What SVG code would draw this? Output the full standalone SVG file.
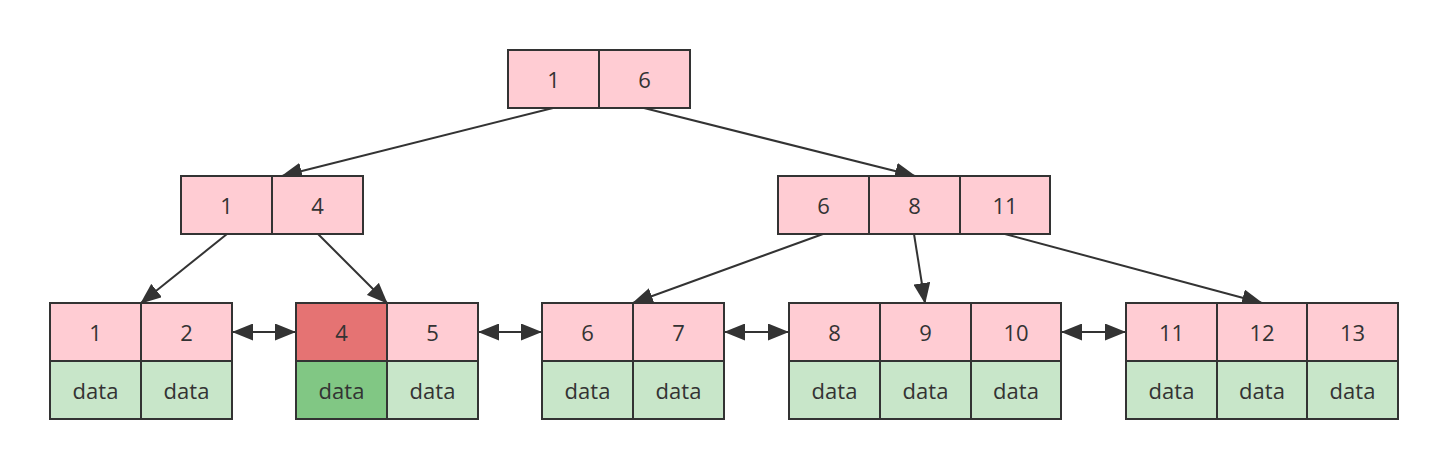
<svg xmlns="http://www.w3.org/2000/svg" width="1449" height="468" viewBox="0 0 1449 468">
<defs>
<style>
.k{fill:#ffccd3;stroke:#333;stroke-width:2}
.kh{fill:#e57373;stroke:#333;stroke-width:2}
.d{fill:#c8e6c9;stroke:#333;stroke-width:2}
.dh{fill:#81c784;stroke:#333;stroke-width:2}
text{font-family:"Open Sans","Noto Sans","DejaVu Sans",sans-serif;font-size:22px;fill:#333;text-anchor:middle;dominant-baseline:central}
.e{stroke:#333;stroke-width:2;fill:none}
</style>
<marker id="a" markerUnits="userSpaceOnUse" markerWidth="22" markerHeight="17" refX="20" refY="8.5" orient="auto-start-reverse" viewBox="0 0 22 17">
<path d="M0,0 L21,8.5 L0,17 Z" fill="#333"/>
</marker>
</defs>
<g id="edges">
<line class="e" x1="553" y1="108" x2="282" y2="176" marker-end="url(#a)"/>
<line class="e" x1="644" y1="108" x2="915" y2="176" marker-end="url(#a)"/>
<line class="e" x1="227" y1="234" x2="141" y2="303" marker-end="url(#a)"/>
<line class="e" x1="318" y1="234" x2="387" y2="303" marker-end="url(#a)"/>
<line class="e" x1="823" y1="234" x2="633" y2="303" marker-end="url(#a)"/>
<line class="e" x1="914" y1="234" x2="925" y2="303" marker-end="url(#a)"/>
<line class="e" x1="1005" y1="234" x2="1262" y2="303" marker-end="url(#a)"/>
<line class="e" x1="233" y1="332" x2="295" y2="332" marker-start="url(#a)" marker-end="url(#a)"/>
<line class="e" x1="479" y1="332" x2="541" y2="332" marker-start="url(#a)" marker-end="url(#a)"/>
<line class="e" x1="725" y1="332" x2="788" y2="332" marker-start="url(#a)" marker-end="url(#a)"/>
<line class="e" x1="1062" y1="332" x2="1125" y2="332" marker-start="url(#a)" marker-end="url(#a)"/>
</g>
<g id="root">
<rect class="k" x="508" y="50" width="91" height="58"/><rect class="k" x="599" y="50" width="91" height="58"/>
<text x="553.5" y="79">1</text><text x="644.5" y="79">6</text>
</g>
<g id="inner-left">
<rect class="k" x="181" y="176" width="91" height="58"/><rect class="k" x="272" y="176" width="91" height="58"/>
<text x="226.5" y="205">1</text><text x="317.5" y="205">4</text>
</g>
<g id="inner-right">
<rect class="k" x="778" y="176" width="91" height="58"/><rect class="k" x="869" y="176" width="91" height="58"/><rect class="k" x="960" y="176" width="90" height="58"/>
<text x="823.5" y="205">6</text><text x="914.5" y="205">8</text><text x="1005" y="205">11</text>
</g>
<g id="leaf1">
<rect class="k" x="50" y="303" width="91" height="58"/><rect class="k" x="141" y="303" width="91" height="58"/>
<rect class="d" x="50" y="361" width="91" height="58"/><rect class="d" x="141" y="361" width="91" height="58"/>
<text x="95.5" y="332">1</text><text x="186.5" y="332">2</text>
<text x="95.5" y="390">data</text><text x="186.5" y="390">data</text>
</g>
<g id="leaf2">
<rect class="kh" x="296" y="303" width="91" height="58"/><rect class="k" x="387" y="303" width="91" height="58"/>
<rect class="dh" x="296" y="361" width="91" height="58"/><rect class="d" x="387" y="361" width="91" height="58"/>
<text x="341.5" y="332">4</text><text x="432.5" y="332">5</text>
<text x="341.5" y="390">data</text><text x="432.5" y="390">data</text>
</g>
<g id="leaf3">
<rect class="k" x="542" y="303" width="91" height="58"/><rect class="k" x="633" y="303" width="91" height="58"/>
<rect class="d" x="542" y="361" width="91" height="58"/><rect class="d" x="633" y="361" width="91" height="58"/>
<text x="587.5" y="332">6</text><text x="678.5" y="332">7</text>
<text x="587.5" y="390">data</text><text x="678.5" y="390">data</text>
</g>
<g id="leaf4">
<rect class="k" x="789" y="303" width="91" height="58"/><rect class="k" x="880" y="303" width="91" height="58"/><rect class="k" x="971" y="303" width="90" height="58"/>
<rect class="d" x="789" y="361" width="91" height="58"/><rect class="d" x="880" y="361" width="91" height="58"/><rect class="d" x="971" y="361" width="90" height="58"/>
<text x="834.5" y="332">8</text><text x="925.5" y="332">9</text><text x="1016" y="332">10</text>
<text x="834.5" y="390">data</text><text x="925.5" y="390">data</text><text x="1016" y="390">data</text>
</g>
<g id="leaf5">
<rect class="k" x="1126" y="303" width="91" height="58"/><rect class="k" x="1217" y="303" width="90" height="58"/><rect class="k" x="1307" y="303" width="91" height="58"/>
<rect class="d" x="1126" y="361" width="91" height="58"/><rect class="d" x="1217" y="361" width="90" height="58"/><rect class="d" x="1307" y="361" width="91" height="58"/>
<text x="1171.5" y="332">11</text><text x="1262" y="332">12</text><text x="1352.5" y="332">13</text>
<text x="1171.5" y="390">data</text><text x="1262" y="390">data</text><text x="1352.5" y="390">data</text>
</g>
</svg>
